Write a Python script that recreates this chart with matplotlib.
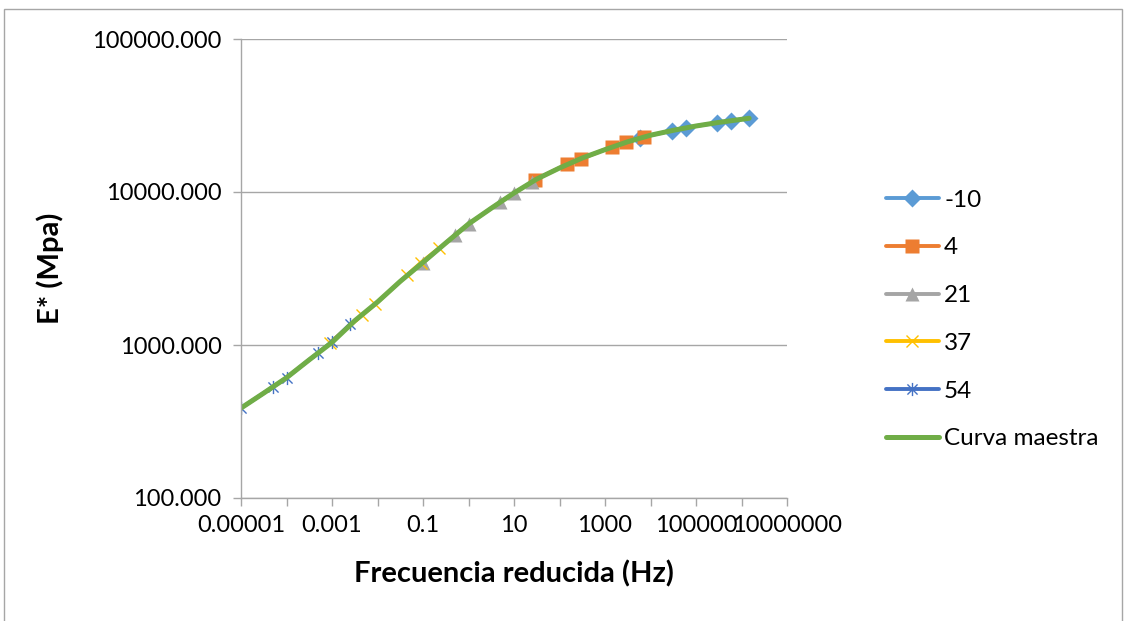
import numpy as np
import matplotlib
matplotlib.use("Agg")
import matplotlib.pyplot as plt
from matplotlib.path import Path
from matplotlib.patches import Rectangle

plt.rcParams['font.family'] = ['Lato', 'DejaVu Sans']

# frecuencia reducida (Hz) y modulo dinamico E* (MPa) por temperatura
f_m10 = [5900, 29500, 59000, 295000, 590000, 1475000]
e_m10 = [22700, 25160, 26320, 28380, 29240, 30330]

f_4 = [29, 145, 290, 1450, 2900, 7250]
e_4 = [11980, 15180, 16430, 19780, 21130, 22980]

f_21 = [0.1, 0.5, 1, 5, 10, 25]
e_21 = [3440, 5240, 6180, 8600, 9850, 11620]

f_37 = [0.0009, 0.0045, 0.009, 0.045, 0.09, 0.225]
e_37 = [1035, 1560, 1854, 2868, 3451, 4285]

f_54 = [0.00001, 0.00005, 0.0001, 0.0005, 0.001, 0.0025]
e_54 = [387, 531, 611, 891, 1051, 1366]

# curva maestra
f_master = [1e-5, 3.16e-5, 1e-4, 3.16e-4, 1e-3, 3.16e-3, 1e-2, 3.16e-2, 0.1, 0.316,
            1, 3.16, 10, 31.6, 100, 316, 1000, 3160, 1e4, 3.16e4, 1e5, 3.16e5,
            1e6, 1.475e6]
e_master = [387, 485, 611, 800, 1040, 1440, 1910, 2606, 3470, 4640,
            6180, 7830, 9850, 12150, 14350, 16680, 18920, 21300, 23500, 25300,
            27000, 28500, 29850, 30330]

x_tick_labels = ['0.00001', '', '0.001', '', '0.1', '', '10', '', '1000', '',
                 '100000', '', '10000000']
y_ticks = [100, 1000, 10000, 100000]

# marcador tipo asterisco (x con linea vertical)
star = Path([(-1, -1), (1, 1), (-1, 1), (1, -1), (0, -1.3), (0, 1.3)],
            [Path.MOVETO, Path.LINETO, Path.MOVETO, Path.LINETO, Path.MOVETO, Path.LINETO])

fig = plt.figure(figsize=(11.25, 6.21), dpi=100)
ax = fig.add_axes([241 / 1125, 1 - 498 / 621, 546 / 1125, 459 / 621])

series = [
    (f_m10, e_m10, '-10', '#5B9BD5', 'D', 9, 'none'),
    (f_4, e_4, '4', '#ED7D31', 's', 9.5, 'none'),
    (f_21, e_21, '21', '#A5A5A5', '^', 10, 'none'),
    (f_37, e_37, '37', '#FFC000', 'x', 8.5, None),
    (f_54, e_54, '54', '#4472C4', star, 9.5, None),
]
for f, e, lab, col, mk, ms, mec in series:
    ax.plot(f, e, color=col, lw=2.8, marker=mk, ms=ms, mfc=col,
            mec=col if mec is None else 'none', mew=1.0, label=lab,
            solid_capstyle='round')
ax.plot(f_master, e_master, color='#70AD47', lw=3.6, label='Curva maestra',
        solid_capstyle='round', solid_joinstyle='round')

ax.set_xscale('log')
ax.set_yscale('log')
ax.set_xlim(1e-5, 1e7)
ax.set_ylim(100, 100000)

ax.set_xticks([10.0 ** k for k in range(-5, 8)])
ax.set_xticklabels(x_tick_labels)
ax.xaxis.set_minor_locator(matplotlib.ticker.NullLocator())
ax.set_yticks(y_ticks)
ax.set_yticklabels(['{:.3f}'.format(v) for v in y_ticks])
ax.yaxis.set_minor_locator(matplotlib.ticker.NullLocator())

ax.tick_params(axis='both', direction='out', length=6, width=1, color='#A6A6A6',
               labelsize=17, pad=6)
ax.tick_params(axis='y', pad=8)

ax.grid(axis='y', color='#A6A6A6', lw=1)
ax.set_axisbelow(True)
for side in ['top', 'right']:
    ax.spines[side].set_visible(False)
for side in ['left', 'bottom']:
    ax.spines[side].set_color('#A6A6A6')
    ax.spines[side].set_linewidth(1)

ax.set_xlabel('Frecuencia reducida (Hz)', fontsize=21, fontweight='bold', labelpad=18)
ax.set_ylabel('E* (Mpa)', fontsize=21, fontweight='bold', labelpad=20)

fig.legend(loc='upper left', bbox_to_anchor=(876 / 1125, 1 - 180 / 621),
           frameon=False, fontsize=17.5, handlelength=2.2, handletextpad=0.2,
           labelspacing=1.1, borderaxespad=0)

# borde del grafico
fig.patches.append(Rectangle((4 / 1125, -0.05), 1118 / 1125, 1.05 - 9 / 621,
                             transform=fig.transFigure, fill=False,
                             edgecolor='#A6A6A6', lw=1))

fig.savefig('out.png', dpi=100)
